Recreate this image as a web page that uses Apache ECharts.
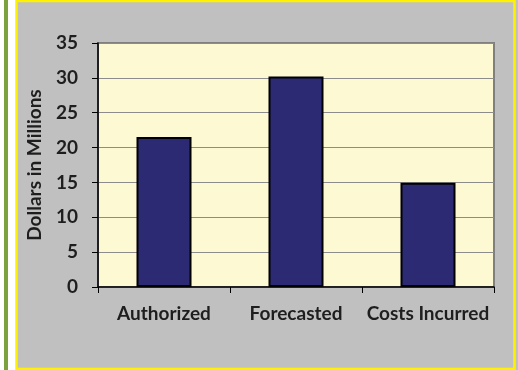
<!DOCTYPE html>
<html>
<head>
<meta charset="utf-8">
<script src="https://cdn.jsdelivr.net/npm/echarts@6/dist/echarts.min.js"></script>
<style>
html,body{margin:0;padding:0;background:#fff;}
#c{width:518px;height:370px;}
</style>
</head>
<body>
<div id="c"></div>
<script>
var categories = ['Authorized', 'Forecasted', 'Costs Incurred'];
var values = [21.5, 30.2, 14.95];
var yTicks = [0, 5, 10, 15, 20, 25, 30, 35];

var chart = echarts.init(document.getElementById('c'), null, {renderer: 'canvas'});
var font = 'Lato, "Open Sans", sans-serif';
chart.setOption({
  backgroundColor: '#C0C0C0',
  animation: false,
  graphic: [
    {type: 'rect', z: -10, shape: {x: 0, y: 0, width: 16, height: 370}, style: {fill: '#ffffff'}, silent: true},
    {type: 'rect', z: -9, shape: {x: 4, y: 0, width: 4, height: 370}, style: {fill: '#7BA23F'}, silent: true},
    {type: 'rect', z: -9, shape: {x: 16.5, y: 1, width: 498, height: 368}, style: {fill: 'none', stroke: '#FFF200', lineWidth: 2.5}, silent: true}
  ],
  grid: {
    left: 98, top: 43, right: 24, bottom: 83,
    show: true, backgroundColor: '#FDF9D2', borderColor: '#808080', borderWidth: 2
  },
  xAxis: {
    type: 'category',
    data: categories,
    axisLine: {lineStyle: {color: '#000', width: 1.5}},
    axisTick: {show: true, length: 6, lineStyle: {color: '#000'}},
    axisLabel: {interval: 0, color: '#1e1e1e', fontFamily: font, fontWeight: 'bold', fontSize: 19, margin: 17}
  },
  yAxis: {
    type: 'value',
    min: 0, max: 35, interval: 5,
    name: 'Dollars in Millions',
    nameLocation: 'middle',
    nameRotate: 90,
    nameGap: 54,
    nameTextStyle: {color: '#1e1e1e', fontFamily: font, fontWeight: 'bold', fontSize: 19},
    axisLine: {show: true, lineStyle: {color: '#000', width: 1.5}},
    axisTick: {show: true, length: 6, lineStyle: {color: '#000'}},
    axisLabel: {
      color: '#1e1e1e', fontFamily: font, fontWeight: 'bold', fontSize: 19, margin: 20,
      formatter: function (v) { return yTicks.indexOf(v) >= 0 ? String(v) : ''; }
    },
    splitLine: {show: true, lineStyle: {color: '#8C8C8C', width: 1}}
  },
  series: [{
    type: 'bar',
    data: values,
    barWidth: 55,
    itemStyle: {color: '#2B2A72', borderColor: '#000', borderWidth: 2}
  }]
});
</script>
</body>
</html>
